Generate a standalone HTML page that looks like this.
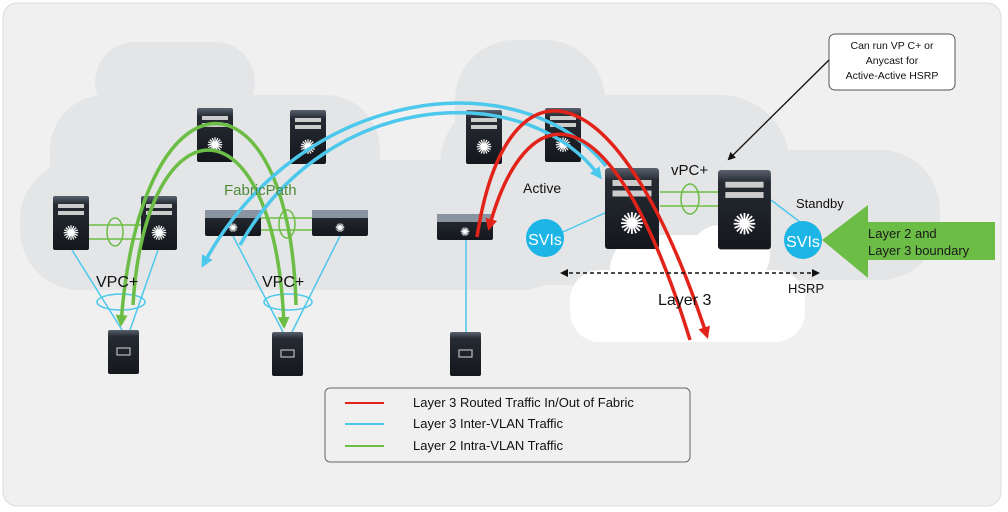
<!DOCTYPE html>
<html><head><meta charset="utf-8"><style>
html,body{margin:0;padding:0;background:#fff;width:1008px;height:512px;overflow:hidden}
svg{display:block;font-family:"Liberation Sans",sans-serif}
</style></head><body>
<svg width="1008" height="512" viewBox="0 0 1008 512">
<defs>
<marker id="ag" markerWidth="14" markerHeight="14" refX="9" refY="6" orient="auto" markerUnits="userSpaceOnUse"><path d="M0,0 L12,6 L0,12 z" fill="#6cbd45"/></marker>
<marker id="ab" markerWidth="14" markerHeight="14" refX="9" refY="6" orient="auto" markerUnits="userSpaceOnUse"><path d="M0,0 L12,6 L0,12 z" fill="#4cc8ec"/></marker>
<marker id="ar" markerWidth="14" markerHeight="14" refX="9" refY="6" orient="auto" markerUnits="userSpaceOnUse"><path d="M0,0 L12,6 L0,12 z" fill="#e2231a"/></marker>
<marker id="ak" markerWidth="8" markerHeight="8" refX="6" refY="4" orient="auto" markerUnits="userSpaceOnUse"><path d="M0,0 L8,4 L0,8 z" fill="#111"/></marker>
<marker id="akd" markerWidth="8" markerHeight="8" refX="6" refY="4" orient="auto-start-reverse" markerUnits="userSpaceOnUse"><path d="M0,0 L8,4 L0,8 z" fill="#111"/></marker>
<linearGradient id="dev" x1="0" y1="0" x2="0" y2="1"><stop offset="0" stop-color="#5a6270"/><stop offset="0.15" stop-color="#262b33"/><stop offset="1" stop-color="#14171c"/></linearGradient>
<g id="chassis"><rect x="0" y="0" width="36" height="54" rx="2" fill="url(#dev)"/><rect x="5" y="8" width="26" height="4" fill="#ccc"/><rect x="5" y="15" width="26" height="4" fill="#ccc"/><text x="18" y="44" font-size="20" fill="#fff" text-anchor="middle">✺</text></g>
<g id="flat"><rect x="0" y="0" width="56" height="26" rx="2" fill="url(#dev)"/><rect x="0" y="0" width="56" height="8" fill="#8a93a0"/><text x="28" y="22" font-size="12" fill="#fff" text-anchor="middle">✺</text></g>
<g id="srv"><rect x="0" y="0" width="31" height="44" rx="2" fill="url(#dev)"/><rect x="9" y="18" width="13" height="7" fill="none" stroke="#bbb" stroke-width="1.2"/></g>
</defs>
<rect x="0" y="0" width="1008" height="512" fill="#fff"/>
<rect x="3" y="3" width="998" height="503" rx="14" fill="#f0f0f0" stroke="#ddd"/>
<g fill="#e4e5e7">
<rect x="95" y="42" width="160" height="80" rx="40"/>
<rect x="50" y="95" width="330" height="120" rx="55"/>
<rect x="20" y="160" width="560" height="130" rx="60"/>
<rect x="455" y="40" width="150" height="140" rx="60"/>
<rect x="440" y="95" width="350" height="190" rx="70"/>
<rect x="600" y="150" width="340" height="130" rx="60"/>
</g>
<g fill="#fff">
<rect x="570" y="270" width="235" height="72" rx="30"/>
<rect x="610" y="235" width="120" height="80" rx="35"/>
<rect x="690" y="225" width="80" height="60" rx="30"/>
</g>
<g stroke="#4cc8ec" stroke-width="1.5" fill="none">
<line x1="72" y1="250" x2="122" y2="330"/><line x1="158" y1="250" x2="130" y2="330"/>
<line x1="233" y1="236" x2="283" y2="332"/><line x1="340" y1="236" x2="292" y2="332"/>
<line x1="466" y1="240" x2="466" y2="332"/>
<ellipse cx="121" cy="302" rx="24" ry="8"/><ellipse cx="288" cy="302" rx="24" ry="8"/>
<line x1="563" y1="232" x2="607" y2="212"/><line x1="771" y1="200" x2="800" y2="222"/>
</g>
<g stroke="#6cbd45" stroke-width="1.5" fill="none">
<line x1="89" y1="225" x2="141" y2="225"/><line x1="89" y1="239" x2="141" y2="239"/>
<ellipse cx="115" cy="232" rx="8" ry="14"/>
<line x1="261" y1="218" x2="312" y2="218"/><line x1="261" y1="230" x2="312" y2="230"/>
<ellipse cx="287" cy="224" rx="8" ry="14"/>
<line x1="660" y1="192" x2="718" y2="192"/><line x1="660" y1="206" x2="718" y2="206"/>
<ellipse cx="690" cy="199" rx="9" ry="15"/>
</g>
<use href="#chassis" x="197" y="108"/><use href="#chassis" x="290" y="110"/>
<use href="#chassis" x="466" y="110"/><use href="#chassis" x="545" y="108"/>
<use href="#chassis" x="53" y="196"/><use href="#chassis" x="141" y="196"/>
<use href="#flat" x="205" y="210"/><use href="#flat" x="312" y="210"/><use href="#flat" x="437" y="214"/>
<g transform="translate(605,168) scale(1.5)"><use href="#chassis"/></g>
<g transform="translate(718,170) scale(1.47)"><use href="#chassis"/></g>
<use href="#srv" x="108" y="330"/><use href="#srv" x="272" y="332"/><use href="#srv" x="450" y="332"/>
<g fill="none" stroke-width="3.5">
<path d="M296 305 C290 60,140 60,121 324" stroke="#6cbd45" marker-end="url(#ag)"/>
<path d="M133 305 C145 100,275 90,284 326" stroke="#6cbd45" marker-end="url(#ag)"/>
<path d="M240 245 C330 85,530 80,600 177" stroke="#4cc8ec" marker-end="url(#ab)"/>
<path d="M606 166 C520 60,300 85,203 265" stroke="#4cc8ec" marker-end="url(#ab)"/>
<path d="M477 237 C505 55,615 55,707 336" stroke="#e2231a" marker-end="url(#ar)"/>
<path d="M690 340 C610 80,525 95,489 228" stroke="#e2231a" marker-end="url(#ar)"/>
</g>
<circle cx="545" cy="238" r="19" fill="#1cb5e6"/><text x="545" y="245" font-size="16" fill="#fff" text-anchor="middle">SVIs</text>
<circle cx="803" cy="240" r="19" fill="#1cb5e6"/><text x="803" y="247" font-size="16" fill="#fff" text-anchor="middle">SVIs</text>
<path d="M822 240 L868 205 L868 222 L995 222 L995 260 L868 260 L868 278 Z" fill="#6cbd45"/>
<text x="868" y="238" font-size="13" fill="#1a1a1a">Layer 2 and</text>
<text x="868" y="255" font-size="13" fill="#1a1a1a">Layer 3 boundary</text>
<text x="224" y="195" font-size="15" fill="#4f8a3a">FabricPath</text>
<text x="96" y="287" font-size="16" fill="#111">VPC+</text>
<text x="262" y="287" font-size="16" fill="#111">VPC+</text>
<text x="523" y="193" font-size="14" fill="#111">Active</text>
<text x="671" y="175" font-size="15" fill="#111">vPC+</text>
<text x="796" y="208" font-size="13" fill="#111">Standby</text>
<text x="658" y="305" font-size="16" fill="#111">Layer 3</text>
<text x="788" y="293" font-size="13" fill="#111">HSRP</text>
<line x1="562" y1="273" x2="818" y2="273" stroke="#111" stroke-width="1.5" stroke-dasharray="4,3" marker-start="url(#akd)" marker-end="url(#akd)"/>
<rect x="829" y="34" width="126" height="56" rx="6" fill="#fff" stroke="#555"/>
<text font-size="10.5" fill="#111" text-anchor="middle"><tspan x="892" y="49">Can run VP C+ or</tspan><tspan x="892" y="64">Anycast for</tspan><tspan x="892" y="79">Active-Active HSRP</tspan></text>
<line x1="829" y1="60" x2="729" y2="159" stroke="#111" stroke-width="1.3" marker-end="url(#ak)"/>
<rect x="325" y="388" width="365" height="74" rx="5" fill="#f0f0f0" stroke="#666"/>
<line x1="345" y1="403" x2="384" y2="403" stroke="#e2231a" stroke-width="2"/>
<line x1="345" y1="424" x2="384" y2="424" stroke="#4cc8ec" stroke-width="2"/>
<line x1="345" y1="446" x2="384" y2="446" stroke="#6cbd45" stroke-width="2"/>
<g font-size="13" fill="#111"><text x="413" y="407">Layer 3 Routed Traffic In/Out of Fabric</text><text x="413" y="428">Layer 3 Inter-VLAN Traffic</text><text x="413" y="450">Layer 2 Intra-VLAN Traffic</text></g>
</svg>
</body></html>
